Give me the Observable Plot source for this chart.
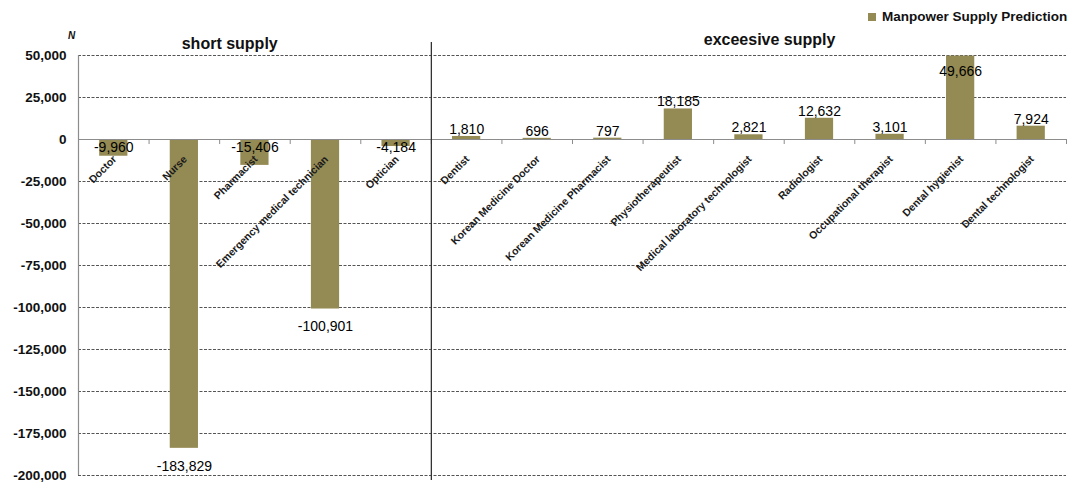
<!DOCTYPE html>
<html>
<head>
<meta charset="utf-8">
<script src="https://cdn.jsdelivr.net/npm/d3@7"></script>
<script src="https://cdn.jsdelivr.net/npm/@observablehq/plot@0.6"></script>
<style>
  body { margin: 0; background: #fff; }
  #wrap { position: relative; width: 1071px; height: 483px; font-family: "Liberation Sans", Arial, sans-serif; color: #111; }
  .abs { position: absolute; white-space: nowrap; line-height: 1; }
  .hdr { font-weight: bold; font-size: 16px; transform: translate(-50%, -50%); }
  #unit { left: 68px; top: 31px; font-size: 10px; font-weight: bold; font-style: italic; }
  #legend { left: 868px; top: 10px; font-size: 13.5px; font-weight: bold; display: flex; align-items: center; }
  #legend .sw { width: 8px; height: 8px; background: #948a54; margin-right: 6px; }
</style>
</head>
<body>
<div id="wrap"></div>
<script>
const categories = ["Doctor", "Nurse", "Pharmacist", "Emergency medical technician", "Optician",
  "Dentist", "Korean Medicine Doctor", "Korean Medicine Pharmacist", "Physiotherapeutist",
  "Medical laboratory technologist", "Radiologist", "Occupational therapist", "Dental hygienist", "Dental technologist"];
const values = [-9960, -183829, -15406, -100901, -4184, 1810, 696, 797, 18185, 2821, 12632, 3101, 49666, 7924];
const groupNames = ["short supply", "exceesive supply"];
const seriesName = "Manpower Supply Prediction";
const unitLabel = "N";
const yTicks = [50000, 25000, 0, -25000, -50000, -75000, -100000, -125000, -150000, -175000, -200000];

const data = categories.map((c, i) => ({i, cat: c, value: values[i]}));
const fmt = d3.formatLocale({decimal: ".", thousands: ",", grouping: [3], currency: ["", ""], minus: "-"}).format(",");
const boundaries = d3.range(1, categories.length + 1).map(k => k - 0.5);
const barHalf = 0.2;
const splitAt = 4.5;

const plot = Plot.plot({
  width: 1071,
  height: 483,
  marginLeft: 78,
  marginRight: 5,
  marginTop: 55,
  marginBottom: 8,
  style: {fontFamily: '"Liberation Sans", Arial, sans-serif', color: "#111", background: "#fff"},
  x: {type: "linear", domain: [-0.5, categories.length - 0.5], axis: null},
  y: {domain: [-200000, 50000], axis: null},
  marks: [
    Plot.ruleY(yTicks.filter(d => d !== 0), {stroke: "#555", strokeWidth: 1, strokeDasharray: "3,1.5"}),
    Plot.rectY(data, {x1: d => d.i - barHalf, x2: d => d.i + barHalf, y1: 0, y2: "value", fill: "#948a54"}),
    Plot.ruleY([0], {stroke: "#8c8c8c", strokeWidth: 1.2}),
    Plot.ruleX(boundaries, {y1: 0, y2: -3000, stroke: "#8c8c8c"}),
    Plot.ruleX([-0.5], {y1: -200000, y2: 50000, stroke: "#8c8c8c", strokeWidth: 1.2}),
    Plot.ruleX([splitAt], {y1: 57700, y2: -203000, stroke: "#333", strokeWidth: 1.3}),
    Plot.axisY(yTicks, {label: null, tickSize: 0, tickPadding: 12, tickFormat: fmt, fontSize: 13.5, fontWeight: "bold", fill: "#111"}),
    Plot.text(data, {x: "i", y: 0, text: "cat", rotate: -45, textAnchor: "end", dx: 1, dy: 18, fontSize: 10.5, fontWeight: "bold", fill: "#1a1a1a"}),
    // value labels
    Plot.text(data.filter(d => d.value < 0 && d.value > -50000), {x: "i", y: 0, text: d => fmt(d.value), dy: 8, fontSize: 14, fill: "#000"}),
    Plot.text(data.filter(d => d.value <= -50000), {x: "i", y: "value", text: d => fmt(d.value), dy: 18, fontSize: 14, fill: "#000"}),
    Plot.text(data.filter(d => d.value >= 0 && d.value < 40000), {x: "i", y: "value", text: d => fmt(d.value), dy: -7, fontSize: 14, fill: "#000"}),
    Plot.text(data.filter(d => d.value >= 40000), {x: "i", y: "value", text: d => fmt(d.value), dy: 15, fontSize: 14, fill: "#000"})
  ]
});

const wrap = document.getElementById("wrap");
wrap.appendChild(plot);

const xs = plot.scale("x");
function addDiv(cls, id, text, left, top) {
  const el = document.createElement("div");
  el.className = "abs " + cls;
  if (id) el.id = id;
  el.textContent = text;
  if (left != null) el.style.left = left + "px";
  if (top != null) el.style.top = top + "px";
  wrap.appendChild(el);
  return el;
}
addDiv("hdr", null, groupNames[0], xs.apply(1.65), 44);
addDiv("hdr", null, groupNames[1], xs.apply(9.3), 40);
addDiv("", "unit", unitLabel);
const lg = document.createElement("div");
lg.className = "abs"; lg.id = "legend";
lg.innerHTML = '<span class="sw"></span><span></span>';
lg.lastChild.textContent = seriesName;
wrap.appendChild(lg);
</script>
</body>
</html>
